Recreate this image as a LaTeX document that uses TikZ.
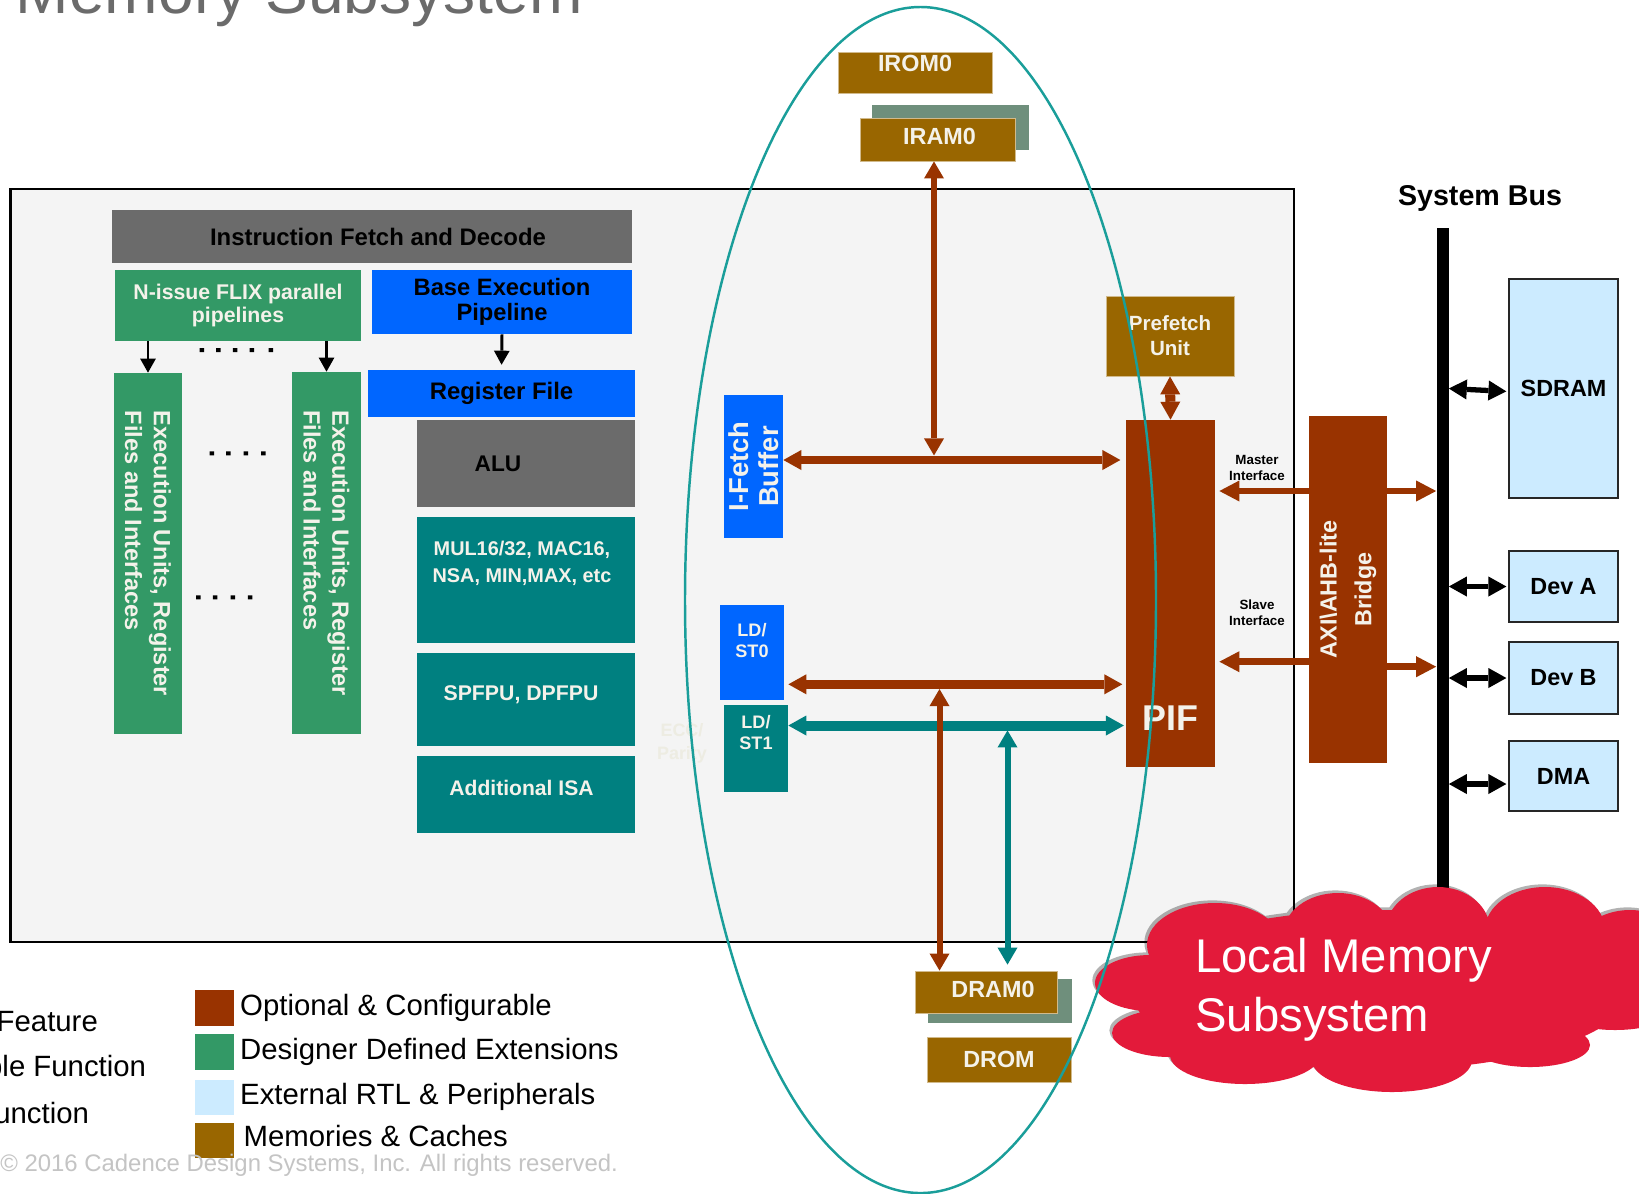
\documentclass[tikz,border=0pt]{standalone}
\usepackage{fontspec}
\setmainfont{Liberation Sans}
\usetikzlibrary{positioning,arrows.meta,shadows}

\definecolor{optc}{HTML}{993300}
\definecolor{dsgc}{HTML}{339966}
\definecolor{tealc}{HTML}{008080}
\definecolor{basec}{HTML}{0066FF}
\definecolor{grayc}{HTML}{6B6B6B}
\definecolor{memc}{HTML}{996600}
\definecolor{extc}{HTML}{CCEBFF}
\definecolor{shdc}{HTML}{6F8F7C}
\definecolor{ellc}{HTML}{1A9E9A}
\definecolor{lmsc}{HTML}{E31A3A}
\definecolor{bgc}{HTML}{F4F4F4}
\definecolor{txtc}{HTML}{F4F2EA}
\definecolor{cprc}{HTML}{C4C4C4}
\definecolor{eccc}{HTML}{EDECE2}

\begin{document}
\begin{tikzpicture}[x=0.2mm, y=-0.2mm,
	blk/.style 2 args={inner sep=0pt, minimum width=#1*0.2mm, minimum height=#2*0.2mm, align=center, text=txtc, font=\bfseries\fontsize{13.3}{16}\selectfont},
	memblk/.style 2 args={blk={#1}{#2}, fill=memc, draw=memc!45!white, line width=0.5pt},
	extblk/.style 2 args={blk={#1}{#2}, fill=extc, draw=black!85, line width=1pt, text=black},
	boxtxt/.style={inner sep=0pt, align=center, text=txtc, font=\bfseries\fontsize{13.3}{16}\selectfont},
	ldtxt/.style={boxtxt, anchor=north, font=\bfseries\fontsize{10.3}{11.9}\selectfont},
	lgbox/.style={inner sep=0pt, minimum width=7.7mm, minimum height=7.1mm},
	legtxt/.style={inner sep=0pt, font=\fontsize{16.7}{19}\selectfont},
	fat/.style={line width=5.1pt, >={Triangle[width=11.4pt,length=10.2pt,line width=0pt]}},
	slim/.style={line width=3.4pt, >={Triangle[width=11.4pt,length=9.7pt,line width=0pt]}},
	brg/.style={line width=3.8pt, >={Triangle[width=12pt,length=11.4pt,line width=0pt]}},
	devarr/.style={line width=3pt, >={Triangle[width=11.4pt,length=10.2pt,line width=0pt]}},
	tinyarr/.style={line width=1.7pt, >={Triangle[width=9pt,length=8pt,line width=0pt]}}]
	\useasboundingbox (0,0) rectangle (1639,1193);
	\clip (0,0) rectangle (1639,1193);
	\fill[white] (0,0) rectangle (1639,1193);
	
	\node[anchor=base west, inner sep=0pt, text=grayc, font=\fontsize{36.5}{40}\selectfont] (ttl) at (15.5,13.3) {Memory Subsystem};
	
	\node[blk={1283.5}{753}, draw=black, line width=1.4pt, fill=bgc] (core) at (652.25,565.5) {};
	
	\node[blk={520}{53}, fill=grayc, label={[boxtxt, text=black, font=\bfseries\fontsize{13.6}{16}\selectfont, xshift=6*0.2mm]center:Instruction Fetch and Decode}] (ifd) at (372,236.5) {};
	\node[blk={246}{71}, fill=dsgc, font=\bfseries\fontsize{12.1}{12.8}\selectfont] (flix) at (238,305.5) {N-issue FLIX parallel\\pipelines};
	\node[blk={260}{64}, fill=basec, text=black, font=\bfseries\fontsize{13.5}{14}\selectfont] (bep) at (502,302) {Base Execution\\Pipeline};
	\node[blk={267}{47}, fill=basec, text=black, font=\bfseries\fontsize{13.6}{16}\selectfont] (regf) at (501.5,393.5) {Register File};
	\node[blk={218}{87}, fill=grayc, label={[boxtxt, text=black, font=\bfseries\fontsize{12.9}{16}\selectfont, xshift=-28*0.2mm]center:ALU}] (alu) at (526,463.5) {};
	\node[blk={218}{126}, fill=tealc, label={[boxtxt, anchor=north, xshift=-4*0.2mm, yshift=-24*0.2mm, font=\bfseries\fontsize{11.3}{15.3}\selectfont]north:{MUL16/32, MAC16,\\NSA, MIN,MAX, etc}}] (mul) at (526,580) {};
	\node[blk={218}{93}, fill=tealc, label={[boxtxt, xshift=-5*0.2mm, yshift=4.5*0.2mm, font=\bfseries\fontsize{12.1}{14}\selectfont]center:{SPFPU, DPFPU}}] (fpu) at (526,699.5) {};
	\node[blk={218}{77}, fill=tealc, label={[boxtxt, xshift=-4.5*0.2mm, yshift=6.5*0.2mm, font=\bfseries\fontsize{12}{14}\selectfont]center:Additional ISA}] (isa) at (526,794.5) {};
	
	\node[blk={361}{68}, fill=dsgc, rotate=-90, align=left, font=\bfseries\fontsize{13.4}{16.4}\selectfont] (exa) at (148,553.5) {Execution Units, Register\\Files and Interfaces};
	\node[blk={362}{69}, fill=dsgc, rotate=-90, align=left, font=\bfseries\fontsize{13.4}{16.4}\selectfont] (exb) at (326.5,553) {Execution Units, Register\\Files and Interfaces};
	
	\draw[tinyarr, ->] (flix.south -| exa.west) -- (exa.west);
	\draw[tinyarr, ->] (flix.south -| exb.west) -- (exb.west);
	\draw[tinyarr, ->, shorten >=2.8pt] (bep.south) -- (regf.north);
	
	\fill (199.5,348) rectangle ++(4.5,4) (216,348) rectangle ++(4.5,4) (232.8,348) rectangle ++(4.5,4) (249.7,348) rectangle ++(4.5,4) (268.6,348) rectangle ++(4.5,4);
	\fill (209.5,451.3) rectangle ++(4.5,4) (226,451.3) rectangle ++(4.5,4) (243.5,451.3) rectangle ++(4.5,4) (261,451.3) rectangle ++(4.5,4);
	\fill (196,595.3) rectangle ++(4.5,4) (212.8,595.3) rectangle ++(4.5,4) (230.5,595.3) rectangle ++(4.5,4) (247.8,595.3) rectangle ++(4.5,4);
	
	\node[blk={143}{59}, fill=basec, rotate=90, font=\bfseries\fontsize{15.6}{17}\selectfont] (ifb) at (753.5,466.5) {I-Fetch\\Buffer};
	\node[blk={64}{95}, fill=basec, label={[ldtxt, yshift=-18*0.2mm]north:{LD/\\ST0}}] (ls0) at (752,652.5) {};
	\node[blk={64}{87}, fill=tealc, label={[ldtxt, yshift=-10*0.2mm]north:{LD/\\ST1}}] (ls1) at (756,748.5) {};
	\node[inner sep=0pt, align=center, text=eccc, font=\bfseries\fontsize{10.2}{13}\selectfont] (ecc) at (682,743) {ECC/\\Parity};
	
	\node[blk={157}{45}, fill=shdc] (iramsh) at (950.5,127.5) {};
	\node[memblk={154}{41}, label={[boxtxt, yshift=9*0.2mm]center:IROM0}] (irom) at (915,72.5) {};
	\node[memblk={155}{43}, label={[boxtxt, xshift=2*0.2mm, yshift=3*0.2mm]center:IRAM0}] (iram) at (937.5,139.5) {};
	\node[blk={144}{44}, fill=shdc] (dramsh) at (1000,1001) {};
	\node[memblk={142}{42}, label={[boxtxt, xshift=7*0.2mm, yshift=3*0.2mm]center:DRAM0}] (dram) at (986,992) {};
	\node[memblk={144}{45}] (drom) at (999,1059.5) {DROM};
	
	\node[memblk={128}{80}, font=\bfseries\fontsize{11.7}{14.2}\selectfont] (pref) at (1170,336) {Prefetch\\Unit};
	\node[blk={89}{347}, fill=optc, label={[boxtxt, font=\bfseries\fontsize{20.4}{24}\selectfont, yshift=-124.5*0.2mm]center:PIF}] (pif) at (1170.5,593.5) {};
	\node[blk={347}{78}, fill=optc, rotate=90, font=\bfseries\fontsize{13.3}{19.8}\selectfont] (axi) at (1348,589.5) {AXI\textbackslash AHB-lite\\Bridge};
	\node[inner sep=0pt, align=center, font=\bfseries\fontsize{7.6}{9.1}\selectfont] (mst) at (1257,468) {Master\\Interface};
	\node[inner sep=0pt, align=center, font=\bfseries\fontsize{7.6}{9.1}\selectfont] (slv) at (1257,613) {Slave\\Interface};
	
	\node[blk={12}{661}, fill=black] (bus) at (1442.5,558.5) {};
	\node[font=\bfseries\fontsize{16.3}{19}\selectfont] (sbus) at (1480,198.6) {System Bus};
	\node[extblk={109}{219}] (sdram) at (1563.5,388.5) {SDRAM};
	\node[extblk={109}{71}] (deva) at (1563.5,586.5) {Dev A};
	\node[extblk={109}{72}] (devb) at (1563.5,678) {Dev B};
	\node[extblk={109}{70}] (dma) at (1563.5,776) {DMA};
	
	\coordinate (fbus) at (934,460);
	\coordinate (lbus0) at (939.5,684.3);
	\coordinate (lbus1) at (1007.5,725.5);
	\coordinate (mifc) at (1300,491);
	\coordinate (sifc) at (1300,661.7);
	\coordinate (sbc) at (1400,666.7);
	
	\draw[fat, optc, <->, shorten >=3pt] (ifb.south |- fbus) -- (pif.west |- fbus);
	\draw[slim, optc, <->] (iram.south -| fbus) -- ([yshift=2.6pt]fbus);
	\draw[fat, optc, <->, shorten <=2.3pt, shorten >=1.9pt] (ls0.east |- lbus0) -- (pif.west |- lbus0);
	\draw[fat, tealc, line width=5.7pt, <->, shorten >=1pt] (ls1.east |- lbus1) -- (pif.west |- lbus1);
	\draw[slim, optc, <->] (dram.north -| lbus0) -- ([yshift=-2.7pt]lbus0);
	\draw[slim, tealc, <->, shorten <=3.4pt] (dram.north -| lbus1) -- ([yshift=-2.8pt]lbus1);
	\draw[fat, optc, line width=5.7pt, <->] (pref.south) -- (pif.north);
	
	\draw[brg, optc, ->, shorten >=2.3pt] (axi.north |- mifc) -- (pif.east |- mifc);
	\draw[brg, optc, ->, shorten >=2.3pt] (axi.north |- sifc) -- (pif.east |- sifc);
	\draw[brg, optc, ->] (axi.south |- mifc) -- (bus.west |- mifc);
	\draw[brg, optc, ->] (axi.south |- sbc) -- (bus.west |- sbc);
	
	\draw[devarr, <->, shorten >=1pt] (bus.east |- sdram.west) -- ([yshift=-3*0.2mm]sdram.west);
	\draw[devarr, <->, shorten >=1pt] (bus.east |- deva.west) -- (deva.west);
	\draw[devarr, <->, shorten >=1pt] (bus.east |- devb.west) -- (devb.west);
	\draw[devarr, <->, shorten >=1pt] ([yshift=-8*0.2mm]bus.east |- dma.west) -- ([yshift=-8*0.2mm]dma.west);
	
	\node[lgbox, fill=optc] (lgopt) at (214.25,1007.85) {};
	\node[lgbox, fill=dsgc, below=1.6mm of lgopt] (lgdes) {};
	\node[lgbox, fill=extc, below=1.8mm of lgdes] (lgext) {};
	\node[lgbox, fill=memc, below=1.4mm of lgext] (lgmem) {};
	\node[legtxt, right=1.2mm of lgopt] (txopt) {Optional \& Configurable};
	\node[legtxt, right=1.2mm of lgdes] (txdes) {Designer Defined Extensions};
	\node[legtxt, right=1.2mm of lgext] (txext) {External RTL \& Peripherals};
	\node[legtxt, right=1.9mm of lgmem, yshift=2.5pt] (txmem) {Memories \& Caches};
	\node[legtxt, anchor=base east] (lgfeat) at (98.2,1031.7) {Feature};
	\node[legtxt, anchor=base east] (lgfunc) at (146.4,1076.7) {ble Function};
	\node[legtxt, anchor=base east] (lgfn) at (89.3,1123.3) {unction};
	\node[anchor=base west, inner sep=0pt, text=cprc, font=\fontsize{13.6}{16}\selectfont] (cpr) at (0,1171.7) {© 2016 Cadence Design Systems, Inc. All rights reserved.};
	
	\fill[lmsc, drop shadow={shadow xshift=-1.5pt, shadow yshift=1.5pt, opacity=.3, fill=black}] (1380,990) ellipse (250 and 80) (1215,945) ellipse (68 and 42) (1338,935) ellipse (55 and 42) (1438,930) ellipse (52 and 43) (1545,930) ellipse (60 and 43) (1630,960) ellipse (60 and 50) (1150,983) ellipse (55 and 28) (1170,1033) ellipse (58 and 24) (1245,1055) ellipse (75 and 29) (1392,1060) ellipse (80 and 32) (1530,1045) ellipse (60 and 22) (1615,1015) ellipse (50 and 15);
	\node[anchor=west, inner sep=0pt, align=left, text=white, font=\fontsize{26.9}{33.3}\selectfont] (lms) at (1195,990) {Local Memory\\Subsystem};
	
	\draw[ellc, line width=1.4pt] (920.5,600) ellipse (235.5 and 593);
\end{tikzpicture}
\end{document}
